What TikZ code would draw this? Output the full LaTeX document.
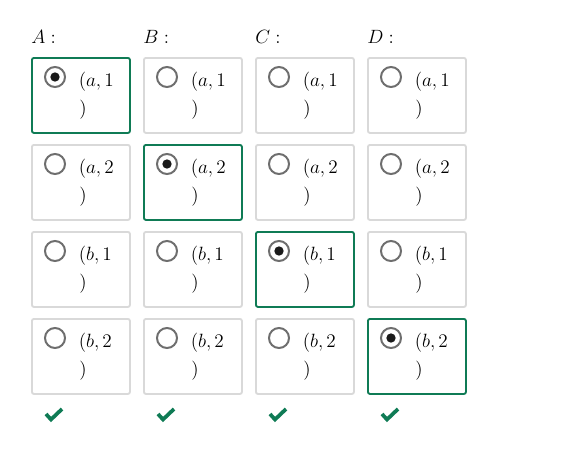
\documentclass[tikz,border=0pt]{standalone}
\usepackage{fontspec}
\definecolor{okgreen}{HTML}{0F7B55}
\definecolor{boxgray}{HTML}{D9D9D9}
\definecolor{radiogray}{HTML}{6E6E6E}
\definecolor{dotblack}{HTML}{1A1A1A}
\begin{document}
\begin{tikzpicture}[x=0.75pt,y=-0.75pt,
  choicebox/.style={draw=boxgray,line width=1.4pt,rounded corners=1.5pt,
    minimum width=73.5pt,minimum height=56.25pt,inner sep=0pt,anchor=north west},
  chosenbox/.style={choicebox,draw=okgreen},
  radio/.style={draw=radiogray,line width=1.5pt,circle,minimum size=15pt,inner sep=0pt},
  radiodot/.style={fill=dotblack,circle,minimum size=7pt,inner sep=0pt},
  choicetext/.style={anchor=base west,inner sep=0pt,font=\fontsize{15}{18}\selectfont},
  headtext/.style={anchor=base west,inner sep=0pt,font=\fontsize{15}{18}\selectfont},
  tick/.style={draw=okgreen,line width=2.8pt,line cap=butt,line join=miter}]
\useasboundingbox (0,0) rectangle (586,457);
\foreach \col/\lab [count=\i from 0] in {A/A,B/B,C/C,D/D}{
  \node[headtext] (head-\col) at ({31+112*\i},43) {$\lab:$};
  \foreach \a/\n [count=\j from 0] in {a/1,a/2,b/1,b/2}{
    \ifnum\i=\j
      \node[chosenbox] (box-\col-\j) at ({31+112*\i},{57+87*\j}) {};
    \else
      \node[choicebox] (box-\col-\j) at ({31+112*\i},{57+87*\j}) {};
    \fi
    \node[radio] (radio-\col-\j) at ({55+112*\i},{77+87*\j}) {};
    \ifnum\i=\j
      \node[radiodot] (dot-\col-\j) at (radio-\col-\j.center) {};
    \fi
    \node[choicetext] (t1-\col-\j) at ({78.5+112*\i},{86+87*\j}) {$(\a,\n$};
    \node[choicetext] (t2-\col-\j) at ({79+112*\i},{114+87*\j}) {$)$};
  }
  \coordinate (ck1-\col) at ({46+112*\i},414);
  \coordinate (ck2-\col) at ({51+112*\i},419.5);
  \coordinate (ck3-\col) at ({62+112*\i},409);
  \draw[tick] (ck1-\col) -- (ck2-\col) -- (ck3-\col);
}
\end{tikzpicture}
\end{document}
